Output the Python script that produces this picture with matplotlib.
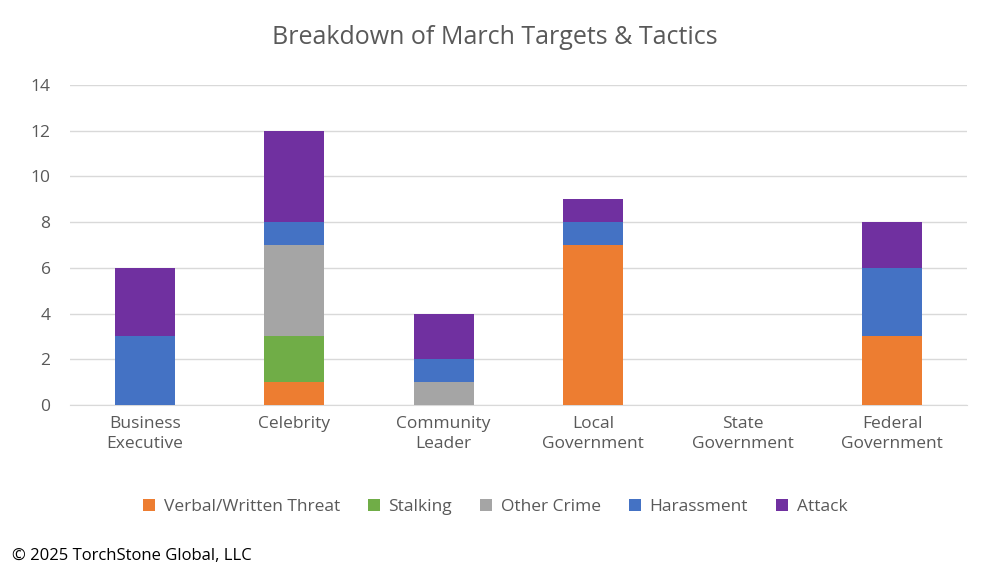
import matplotlib
matplotlib.use("Agg")
import matplotlib.pyplot as plt
import numpy as np

plt.rcParams["font.family"] = "Open Sans"

categories = ["Business\nExecutive", "Celebrity", "Community\nLeader", "Local\nGovernment", "State\nGovernment", "Federal\nGovernment"]
series_names = ["Verbal/Written Threat", "Stalking", "Other Crime", "Harassment", "Attack"]
verbal = [0, 1, 0, 7, 0, 3]
stalking = [0, 2, 0, 0, 0, 0]
other = [0, 4, 1, 0, 0, 0]
harassment = [3, 1, 1, 1, 0, 3]
attack = [3, 4, 2, 1, 0, 2]
colors = ["#ED7D31", "#70AD47", "#A5A5A5", "#4472C4", "#7030A0"]

fig = plt.figure(figsize=(9.9, 5.73), dpi=100)
ax = fig.add_axes([0.0707, 0.293, 0.906, 0.559])
x = np.arange(len(categories))
bottom = np.zeros(len(categories))
for name, vals, c in zip(series_names, [verbal, stalking, other, harassment, attack], colors):
    ax.bar(x, vals, 0.4, bottom=bottom, color=c, label=name, zorder=3)
    bottom += np.array(vals)

ax.set_ylim(0, 14)
ax.set_xlim(-0.5, len(categories) - 0.5)
ax.set_yticks(range(0, 15, 2))
ax.yaxis.grid(True, color="#D9D9D9", linewidth=1, zorder=0)
for s in ["top", "right", "left"]:
    ax.spines[s].set_visible(False)
ax.spines["bottom"].set_color("#D9D9D9")
ax.tick_params(axis="both", length=0, labelsize=12.5, labelcolor="#595959")
ax.tick_params(axis="y", pad=14)
ax.set_xticks(x)
ax.set_xticklabels(categories, linespacing=1.3)
ax.tick_params(axis="x", pad=8)

fig.text(0.5, 0.935, "Breakdown of March Targets & Tactics", ha="center", va="center", fontsize=18, color="#595959")
fig.legend(loc="center", bbox_to_anchor=(0.5, 0.115), ncol=5, frameon=False, fontsize=12.5,
           handlelength=0.7, handleheight=0.7, columnspacing=1.6, handletextpad=0.5, labelcolor="#595959")
fig.text(0.012, 0.03, "© 2025 TorchStone Global, LLC", fontsize=12, color="black", va="center")
fig.savefig("out.png", dpi=100)
